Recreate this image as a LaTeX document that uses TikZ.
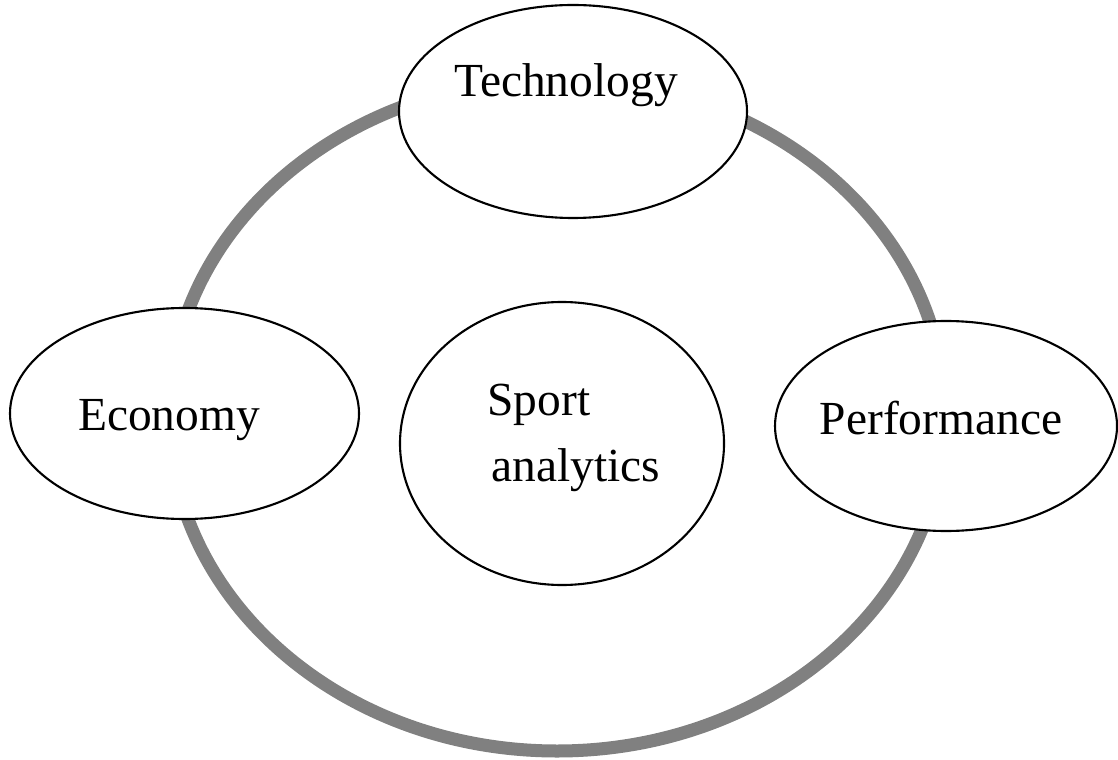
\documentclass[tikz,border=0pt]{standalone}
\usepackage{fontspec}
\setmainfont{Liberation Serif}
\usepackage{tikz}
\tikzset{
font={\fontsize{13.5pt}{16}\selectfont}}
\usetikzlibrary{positioning}
\usetikzlibrary{shapes.geometric}
\usepackage{xcolor}
\tikzset{
    topic/.style={ellipse, draw=black, line width=0.6pt, fill=white, inner sep=0pt},
    ring/.style={draw=gray, line width=3.7pt}
}

\begin{document}
\begin{tikzpicture}
    \useasboundingbox (0, 0) rectangle (11.18, 7.59);
    % Outer ring
    \draw [ring] (5.57, 3.44) ellipse (3.88 and 3.36);

    % Technology
    \node [topic, minimum width=3.48cm, minimum height=2.13cm] (tech) at (5.73, 6.475) {};
    \node [anchor=base] (techtext) at (5.66, 6.62) {Technology};
    % Economy
    \node [topic, minimum width=3.49cm, minimum height=2.11cm] (econ) at (1.845, 3.455) {};
    \node [anchor=base] (econtext) at (1.69, 3.29) {Economy};
    % Performance
    \node [topic, minimum width=3.42cm, minimum height=2.10cm] (perf) at (9.46, 3.33) {};
    \node [anchor=base] (perftext) at (9.41, 3.25) {Performance};
    % Sport analytics
    \node [topic, minimum width=3.24cm, minimum height=2.83cm] (sport) at (5.62, 3.155) {};
    \node [anchor=base] (sporttext) at (5.39, 3.44) {Sport};
    \node [anchor=base] (analyticstext) at (5.76, 2.78) {analytics};
\end{tikzpicture}
\end{document}
